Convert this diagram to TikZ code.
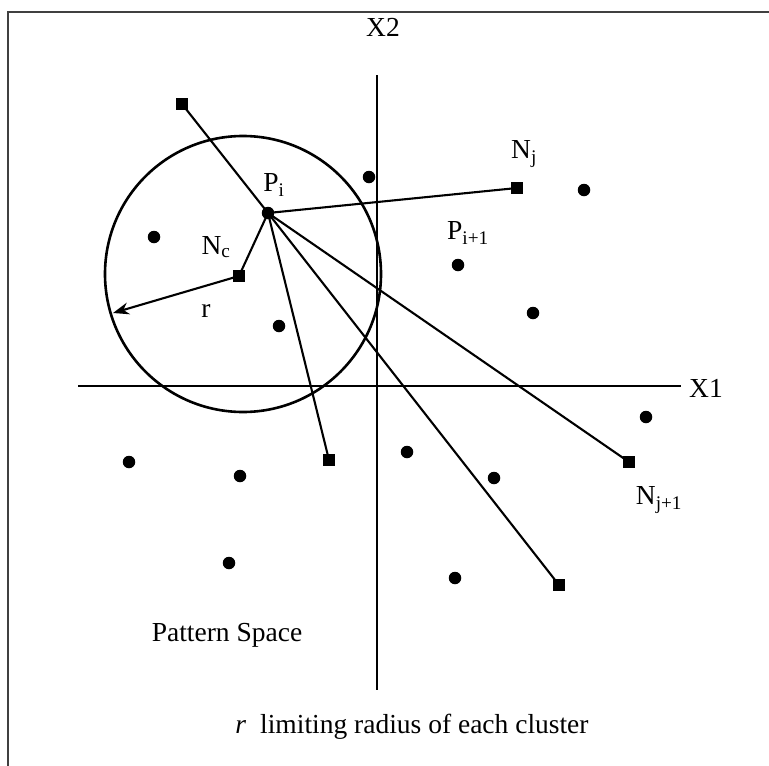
\documentclass[tikz,border=0pt]{standalone}
\usepackage{fontspec}
\setmainfont{Liberation Serif}
\usetikzlibrary{arrows.meta}
\begin{document}
\begin{tikzpicture}[x=1pt,y=-1pt,
  dotpt/.style={circle,fill=black,inner sep=0pt,minimum size=12.5pt},
  sqpt/.style={rectangle,fill=black,inner sep=0pt,minimum size=12.5pt},
  lbl/.style={font=\fontsize{27.5}{30}\selectfont,inner sep=0pt},
  conn/.style={line width=2.1pt},
  axis/.style={line width=2.4pt}]
\useasboundingbox (0,0) rectangle (769,766);
% frame
\draw[line width=2.6pt,black!75] (8,766) -- (8,12) -- (769,12);
% axes
\coordinate (x2t) at (377,75);
\coordinate (x2b) at (377,690);
\coordinate (x1l) at (78,386);
\coordinate (x1r) at (681,386);
\draw[axis] (x2t) -- (x2b);
\draw[axis] (x1l) -- (x1r);
\node[lbl] (X2) at (383,27) {X2};
\node[lbl] (X1) at (706,388) {X1};
% circle
\draw[line width=2.6pt] (243,274) circle (138);
% points
\node[dotpt] (Pi) at (268,213) {};
\node[sqpt] (Nc) at (239,276) {};
\node[sqpt] (Ntl) at (182,104) {};
\node[sqpt] (Nj) at (517,188) {};
\node[sqpt] (Nj1) at (629,462) {};
\node[sqpt] (Nb1) at (329,460) {};
\node[sqpt] (Nb2) at (559,585) {};
\coordinate (rend) at (113,313);
% other dots
\node[dotpt] (d1) at (154,237) {};
\node[dotpt] (d2) at (279,326) {};
\node[dotpt] (d3) at (369,177) {};
\node[dotpt] (d4) at (584,190) {};
\node[dotpt] (Pi1) at (458,265) {};
\node[dotpt] (d6) at (533,313) {};
\node[dotpt] (d7) at (646,417) {};
\node[dotpt] (d8) at (129,462) {};
\node[dotpt] (d9) at (240,476) {};
\node[dotpt] (d10) at (407,452) {};
\node[dotpt] (d11) at (494,478) {};
\node[dotpt] (d12) at (229,563) {};
\node[dotpt] (d13) at (455,578) {};
% connectors
\draw[conn] (Pi.center) -- (Ntl.center);
\draw[conn] (Pi.center) -- (Nj.center);
\draw[conn] (Pi.center) -- (Nc.center);
\draw[conn] (Pi.center) -- (Nb1.center);
\draw[conn] (Pi.center) -- (Nb2.center);
\draw[conn] (Pi.center) -- (Nj1.center);
\draw[conn,-{Stealth[length=16pt,width=12pt]}] (Nc.center) -- (rend);
% labels
\node[lbl] (lPi) at (274,185) {P\textsubscript{i}};
\node[lbl] (lNc) at (216,247) {N\textsubscript{c}};
\node[lbl] (lr) at (206,311) {r};
\node[lbl] (lNj) at (524,154) {N\textsubscript{j}};
\node[lbl] (lPi1) at (468,233) {P\textsubscript{i+1}};
\node[lbl] (lNj1) at (659,500) {N\textsubscript{j+1}};
\node[lbl] (ps) at (227,635) {Pattern Space};
\node[lbl] (cap) at (412,727) {\textit{r}\hspace{14pt}limiting radius of each cluster};
\end{tikzpicture}
\end{document}
